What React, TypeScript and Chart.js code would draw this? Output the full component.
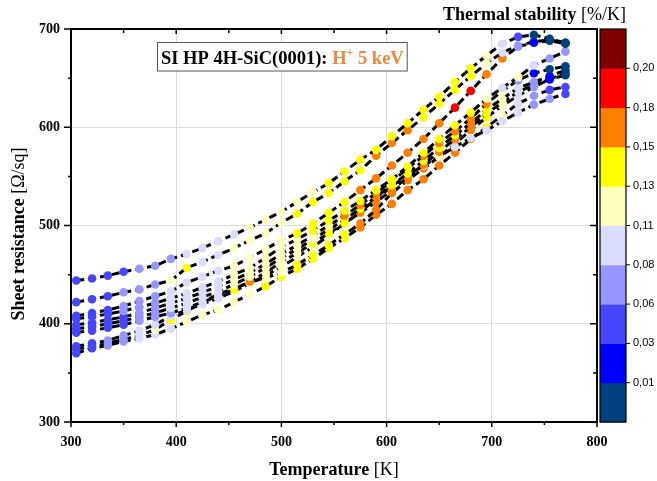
import React, { useEffect, useRef } from 'react';
import { Chart, registerables } from 'chart.js';

Chart.register(...registerables);

// Temperature grid [K]
const temperatures = [305, 320, 335, 350, 365, 380, 395, 410, 425, 440, 455, 470, 485, 500, 515, 530,
  545, 560, 575, 590, 605, 620, 635, 650, 665, 680, 695, 710, 725, 740, 755, 770];

// Sheet resistance [Ohm/sq], one array per sample curve
const resA = [444, 446, 449, 453, 456, 459, 466, 471, 477, 484, 491, 498, 506, 514, 524, 534, 543, 555, 567, 577, 591, 604, 618, 631, 646, 660, 673, 685, 692, 694, 690, 686];
const resB = [422, 425, 428, 432, 435, 440, 444, 457, 463, 470, 477, 485, 492, 503, 512, 524, 533, 545, 556, 571, 584, 597, 610, 624, 638, 652, 665, 676, 683, 687, 689, 686];
const resC = [408, 411, 414, 418, 423, 428, 433, 442, 448, 454, 459, 467, 476, 485, 492, 502, 513, 524, 536, 548, 561, 574, 588, 604, 620, 637, 654, 670, 682, 686, 688, 685];
const resD = [405, 407, 410, 413, 417, 421, 426, 431, 437, 443, 450, 457, 467, 478, 486, 495, 505, 515, 525, 536, 547, 560, 574, 588, 602, 615, 629, 640, 651, 663, 670, 677];
const resE = [399, 401, 404, 407, 411, 416, 421, 426, 432, 438, 445, 452, 461, 471, 480, 490, 500, 510, 521, 533, 545, 558, 571, 584, 596, 609, 624, 637, 648, 655, 659, 662];
const resF = [395, 397, 400, 403, 407, 411, 416, 421, 427, 433, 440, 448, 457, 467, 476, 486, 496, 506, 517, 529, 541, 553, 566, 579, 592, 604, 618, 629, 640, 646, 652, 658];
const resG = [391, 393, 396, 399, 403, 407, 411, 416, 422, 428, 435, 443, 452, 463, 472, 482, 492, 502, 513, 524, 536, 549, 562, 575, 588, 600, 614, 625, 636, 643, 649, 653];
const resI = [377, 380, 383, 388, 393, 399, 408, 414, 420, 426, 433, 441, 449, 458, 468, 478, 490, 502, 514, 527, 540, 551, 561, 570, 580, 589, 597, 606, 615, 623, 629, 634];
const resJ = [374, 377, 380, 384, 388, 394, 404, 413, 422, 430, 436, 442, 447, 452, 460, 470, 480, 491, 502, 516, 533, 546, 558, 570, 583, 597, 610, 622, 632, 641, 649, 655];
const resH = [370, 375, 378, 382, 385, 389, 395, 402, 409, 414, 422, 430, 438, 448, 456, 466, 477, 487, 498, 511, 522, 536, 547, 561, 574, 588, 600, 612, 624, 632, 638, 641];

// Thermal stability [%/K] at each point
const stabA = [.045, .045, .045, .045, .07, .07, .07, .09, .09, .09, .09, .12, .12, .12, .12, .12, .14, .14, .14, .14, .14, .14, .14, .14, .14, .14, .12, .09, .045, .005, .005, .005];
const stabB = [.045, .045, .045, .07, .07, .07, .12, .14, .09, .09, .12, .12, .12, .12, .14, .14, .14, .14, .14, .165, .165, .165, .14, .14, .14, .14, .12, .09, .07, .02, .005, .005];
const stabC = [.045, .045, .045, .07, .07, .07, .09, .09, .09, .09, .12, .12, .12, .12, .14, .14, .14, .14, .165, .165, .165, .165, .165, .165, .19, .19, .165, .165, .07, .02, .005, .005];
const stabD = [.045, .045, .045, .07, .07, .07, .09, .09, .09, .09, .12, .12, .12, .12, .12, .14, .14, .14, .14, .14, .14, .14, .14, .14, .14, .14, .12, .09, .12, .09, .07, .07];
const stabE = [.045, .045, .045, .045, .07, .07, .09, .09, .09, .09, .12, .12, .12, .12, .12, .12, .12, .165, .165, .165, .14, .14, .165, .165, .165, .165, .165, .12, .07, .02, .005, .005];
const stabF = [.045, .045, .045, .045, .07, .07, .09, .09, .09, .09, .12, .12, .12, .12, .12, .12, .14, .14, .14, .165, .14, .14, .14, .14, .14, .165, .14, .12, .09, .07, .02, .005];
const stabG = [.045, .045, .045, .045, .07, .07, .07, .09, .09, .09, .14, .165, .12, .12, .12, .14, .14, .14, .165, .165, .165, .165, .165, .165, .165, .165, .14, .12, .09, .07, .02, .005];
const stabI = [.045, .045, .07, .07, .09, .09, .09, .09, .09, .09, .12, .12, .12, .12, .12, .12, .12, .12, .12, .12, .12, .12, .12, .12, .09, .09, .09, .09, .09, .07, .07, .045];
const stabJ = [.045, .045, .07, .07, .09, .12, .14, .14, .14, .14, .12, .12, .12, .12, .14, .14, .14, .14, .165, .165, .165, .165, .165, .165, .165, .165, .14, .12, .09, .07, .02, .005];
const stabH = [.045, .045, .07, .07, .09, .09, .09, .12, .12, .12, .12, .12, .14, .14, .14, .14, .14, .14, .165, .165, .165, .165, .165, .165, .165, .165, .14, .12, .09, .07, .045, .045];

const curves = [
  { res: resA, stab: stabA },
  { res: resB, stab: stabB },
  { res: resC, stab: stabC },
  { res: resD, stab: stabD },
  { res: resE, stab: stabE },
  { res: resF, stab: stabF },
  { res: resG, stab: stabG },
  { res: resI, stab: stabI },
  { res: resJ, stab: stabJ },
  { res: resH, stab: stabH },
];

// Color scale
const stabilityLevels = [0.01, 0.034, 0.058, 0.081, 0.105, 0.129, 0.153, 0.177, 0.2];
const stabilityLabels = ['0,01', '0,03', '0,06', '0,08', '0,11', '0,13', '0,15', '0,18', '0,20'];
const binColors = ['#004080', '#0000FF', '#4646FF', '#9696FF', '#DCDCFF', '#FFFFC0', '#FFFF00', '#FF8000', '#FF0000', '#800000'];

const xTicks = [300, 400, 500, 600, 700, 800];
const yTicks = [300, 400, 500, 600, 700];

function colorFor(v: number): string {
  let k = 0;
  while (k < stabilityLevels.length && v >= stabilityLevels[k]) k++;
  return binColors[k];
}

const SERIF = '"Liberation Serif", "Times New Roman", serif';
const SANS = '"Liberation Sans", Arial, sans-serif';

function drawMixed(ctx: CanvasRenderingContext2D, parts: { t: string; font: string; color: string; dy?: number }[], x: number, y: number, align: 'left' | 'center' | 'right') {
  let total = 0;
  for (const p of parts) { ctx.font = p.font; total += ctx.measureText(p.t).width; }
  let cx = align === 'left' ? x : align === 'center' ? x - total / 2 : x - total;
  ctx.textAlign = 'left';
  ctx.textBaseline = 'alphabetic';
  for (const p of parts) {
    ctx.font = p.font;
    ctx.fillStyle = p.color;
    ctx.fillText(p.t, cx, y + (p.dy || 0));
    cx += ctx.measureText(p.t).width;
  }
  return total;
}

const decorPlugin = {
  id: 'decor',
  afterDraw(chart: any) {
    const ctx: CanvasRenderingContext2D = chart.ctx;
    const { left, right, top, bottom } = chart.chartArea;
    const xs = chart.scales.x;
    const ys = chart.scales.y;
    ctx.save();
    // frame
    ctx.strokeStyle = '#000';
    ctx.lineWidth = 2;
    ctx.strokeRect(left, top, right - left, bottom - top);
    // ticks
    ctx.lineWidth = 1.5;
    ctx.beginPath();
    for (let v = 300; v <= 800; v += 50) {
      const px = xs.getPixelForValue(v);
      const major = v % 100 === 0;
      ctx.moveTo(px, bottom); ctx.lineTo(px, bottom + (major ? 5 : 3));
      ctx.moveTo(px, top); ctx.lineTo(px, top + (major ? 5 : 4));
    }
    for (let v = 300; v <= 700; v += 50) {
      const py = ys.getPixelForValue(v);
      const major = v % 100 === 0;
      ctx.moveTo(left - (major ? 7 : 3), py); ctx.lineTo(left, py);
      ctx.moveTo(right - (major ? 7 : 4), py); ctx.lineTo(right, py);
    }
    ctx.stroke();

    // axis titles
    drawMixed(ctx, [
      { t: 'Temperature ', font: `bold 18px ${SERIF}`, color: '#000' },
      { t: '[K]', font: `18px ${SERIF}`, color: '#000' },
    ], (left + right) / 2, 475, 'center');

    ctx.save();
    ctx.translate(24, 234);
    ctx.rotate(-Math.PI / 2);
    drawMixed(ctx, [
      { t: 'Sheet resistance ', font: `bold 18px ${SERIF}`, color: '#000' },
      { t: '[\u03A9/sq]', font: `18px ${SERIF}`, color: '#000' },
    ], 0, 0, 'center');
    ctx.restore();

    // annotation box
    const orange = '#F0883C';
    const parts = [
      { t: 'SI HP 4H-SiC(0001): ', font: `bold 18.5px ${SERIF}`, color: '#000' },
      { t: 'H', font: `bold 18.5px ${SERIF}`, color: orange },
      { t: '+', font: `bold 12px ${SERIF}`, color: orange, dy: -8 },
      { t: ' 5 keV', font: `bold 18.5px ${SERIF}`, color: orange },
    ];
    let tw = 0;
    for (const p of parts) { ctx.font = p.font; tw += ctx.measureText(p.t).width; }
    const bx = 157.5, by = 42.5, bh = 28.5;
    ctx.fillStyle = '#fff';
    ctx.fillRect(bx, by, tw + 7, bh);
    ctx.strokeStyle = '#555';
    ctx.lineWidth = 1;
    ctx.strokeRect(bx, by, tw + 7, bh);
    drawMixed(ctx, parts, bx + 3.5, 63.5, 'left');

    // colorbar
    const cbL = 600, cbR = 626, cbT = top, cbB = bottom;
    const n = binColors.length;
    const h = (cbB - cbT) / n;
    for (let k = 0; k < n; k++) {
      ctx.fillStyle = binColors[k];
      ctx.fillRect(cbL, cbB - (k + 1) * h, cbR - cbL, h + 0.5);
    }
    ctx.strokeStyle = '#000';
    ctx.lineWidth = 1.2;
    ctx.strokeRect(cbL, cbT, cbR - cbL, cbB - cbT);
    ctx.font = `11px ${SANS}`;
    ctx.fillStyle = '#000';
    ctx.textAlign = 'left';
    ctx.textBaseline = 'middle';
    ctx.lineWidth = 1;
    for (let k = 0; k < stabilityLabels.length; k++) {
      const yy = cbB - (k + 1) * h;
      ctx.beginPath();
      ctx.moveTo(cbR, yy); ctx.lineTo(cbR + 4, yy);
      ctx.stroke();
      ctx.fillText(stabilityLabels[k], cbR + 7, yy);
    }
    drawMixed(ctx, [
      { t: 'Thermal stability ', font: `bold 18px ${SERIF}`, color: '#000' },
      { t: '[%/K]', font: `18px ${SERIF}`, color: '#000' },
    ], 626, 20, 'right');
    ctx.restore();
  },
};

export default function App() {
  const ref = useRef<HTMLCanvasElement | null>(null);
  useEffect(() => {
    document.body.style.margin = '0';
    const canvas = ref.current;
    if (!canvas) return;
    const chart = new Chart(canvas, {
      type: 'line',
      data: {
        datasets: curves.map((c) => ({
          data: temperatures.map((t, i) => ({ x: t, y: c.res[i] })),
          borderColor: '#000',
          borderWidth: 3,
          borderDash: [8, 4],
          pointRadius: 4.3,
          pointHoverRadius: 4.3,
          pointBorderWidth: 0,
          pointBorderColor: 'rgba(0,0,0,0)',
          pointBackgroundColor: c.stab.map(colorFor),
          fill: false,
          tension: 0,
        })),
      },
      options: {
        responsive: false,
        animation: false,
        events: [],
        layout: { padding: { left: 0, top: 29, right: 60, bottom: 0 } },
        plugins: { legend: { display: false }, tooltip: { enabled: false } },
        scales: {
          x: {
            type: 'linear',
            min: 300,
            max: 800,
            afterFit: (s: any) => { s.height = 59; },
            afterBuildTicks: (s: any) => { s.ticks = xTicks.map((v) => ({ value: v })); },
            ticks: { font: { family: SERIF, size: 14, weight: 'bold' }, color: '#000', padding: 12, maxRotation: 0 },
            grid: { color: '#dcdcdc', lineWidth: 1, drawTicks: false },
            border: { display: false },
          },
          y: {
            type: 'linear',
            min: 300,
            max: 700,
            afterFit: (s: any) => { s.width = 71; },
            afterBuildTicks: (s: any) => { s.ticks = yTicks.map((v) => ({ value: v })); },
            ticks: { font: { family: SERIF, size: 14, weight: 'bold' }, color: '#000', padding: 11 },
            grid: { color: '#dcdcdc', lineWidth: 1, drawTicks: false },
            border: { display: false },
          },
        },
      },
      plugins: [decorPlugin],
    } as any);
    return () => chart.destroy();
  }, []);
  return <canvas ref={ref} width={657} height={481} style={{ display: 'block' }} />;
}
